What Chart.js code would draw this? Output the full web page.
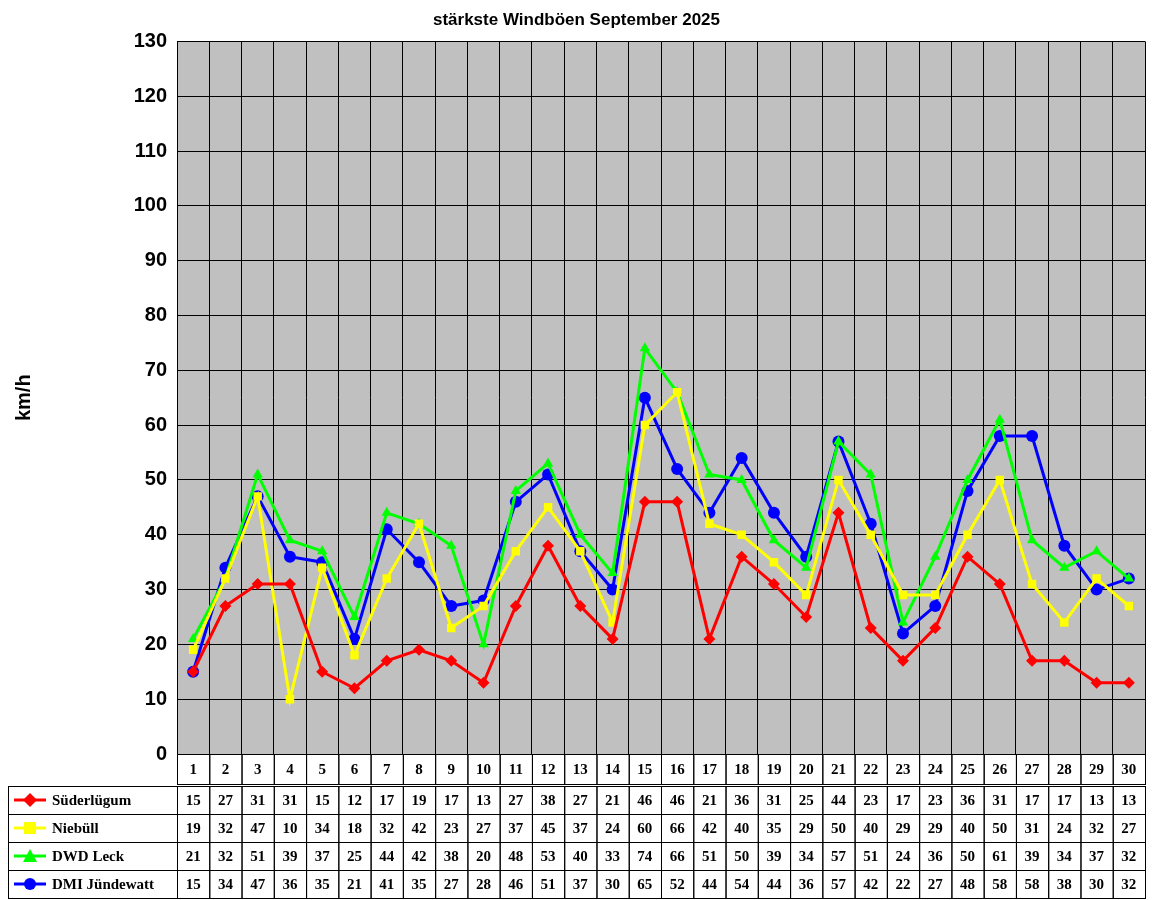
<!DOCTYPE html>
<html><head><meta charset="utf-8">
<script src="https://cdn.jsdelivr.net/npm/chart.js@4"></script>
<style>body{margin:0;background:#fff}#c{display:block}</style>
</head><body>
<canvas id="c" width="1152" height="900"></canvas>
<script>
const days = Array.from({length:30},(_,i)=>String(i+1));
const suederluegum = [15,27,31,31,15,12,17,19,17,13,27,38,27,21,46,46,21,36,31,25,44,23,17,23,36,31,17,17,13,13];
const niebuell = [19,32,47,10,34,18,32,42,23,27,37,45,37,24,60,66,42,40,35,29,50,40,29,29,40,50,31,24,32,27];
const dwdLeck = [21,32,51,39,37,25,44,42,38,20,48,53,40,33,74,66,51,50,39,34,57,51,24,36,50,61,39,34,37,32];
const dmiJuendewatt = [15,34,47,36,35,21,41,35,27,28,46,51,37,30,65,52,44,54,44,36,57,42,22,27,48,58,58,38,30,32];
const seriesNames = ['Süderlügum','Niebüll','DWD Leck','DMI Jündewatt'];
const yTicks = [0,10,20,30,40,50,60,70,80,90,100,110,120,130];

const colors = ['#ff0000','#ffff00','#00ff00','#0000ff'];
const styles = ['rectRot','rect','triangle','circle'];
const allData = [suederluegum,niebuell,dwdLeck,dmiJuendewatt];

const tablePlugin = {
  id:'tbl',
  beforeDraw(chart){
    const a=chart.chartArea, ctx=chart.ctx;
    ctx.save(); ctx.fillStyle='#c0c0c0'; ctx.fillRect(a.left,a.top,a.right-a.left,a.bottom-a.top); ctx.restore();
  },
  afterDraw(chart){
    const a=chart.chartArea, ctx=chart.ctx, x=chart.scales.x;
    const w=(a.right-a.left)/30;
    const top=a.bottom, hh=30, rh=28, left0=8;
    ctx.save();
    ctx.strokeStyle='#000'; ctx.lineWidth=1;
    // header cells
    ctx.font='bold 15px "Times New Roman", "Liberation Serif", serif';
    ctx.textAlign='center'; ctx.textBaseline='middle'; ctx.fillStyle='#000';
    for(let i=0;i<30;i++){
      const cx=x.getPixelForValue(i);
      ctx.strokeRect(cx-w/2+0.5, top+0.5, w, hh);
      ctx.fillText(days[i], cx, top+hh/2+1);
    }
    for(let r=0;r<4;r++){
      const y0=top+hh+2+r*rh;
      ctx.strokeRect(left0+0.5, y0+0.5, a.left-left0, rh);
      for(let i=0;i<30;i++){
        const cx=x.getPixelForValue(i);
        ctx.strokeRect(cx-w/2+0.5, y0+0.5, w, rh);
        ctx.fillStyle='#000'; ctx.textAlign='center';
        ctx.fillText(String(allData[r][i]), cx, y0+rh/2+1);
      }
      // legend sample
      const ly=y0+rh/2;
      ctx.strokeStyle=colors[r]; ctx.lineWidth=3;
      ctx.beginPath(); ctx.moveTo(14,ly); ctx.lineTo(46,ly); ctx.stroke();
      ctx.fillStyle=colors[r];
      const px=30;
      ctx.beginPath();
      if(r===0){ctx.moveTo(px,ly-7);ctx.lineTo(px+7,ly);ctx.lineTo(px,ly+7);ctx.lineTo(px-7,ly);ctx.closePath();}
      else if(r===1){ctx.rect(px-6,ly-6,12,12);}
      else if(r===2){ctx.moveTo(px,ly-7);ctx.lineTo(px+7,ly+6);ctx.lineTo(px-7,ly+6);ctx.closePath();}
      else {ctx.arc(px,ly,6,0,Math.PI*2);}
      ctx.fill();
      ctx.strokeStyle='#000'; ctx.lineWidth=1;
      ctx.fillStyle='#000'; ctx.textAlign='left';
      ctx.fillText(seriesNames[r], 52, ly+1);
    }
    ctx.restore();
  }
};

new Chart(document.getElementById('c'),{
  type:'line',
  data:{labels:days,datasets:allData.map((d,i)=>({
    label:seriesNames[i],data:d,borderColor:colors[i],backgroundColor:colors[i],
    borderWidth:3,pointStyle:styles[i],pointRadius:6,pointBorderWidth:0,tension:0
  }))},
  options:{
    responsive:false,animation:false,
    layout:{padding:{left:8,right:7,bottom:146,top:0}},
    plugins:{
      legend:{display:false},tooltip:{enabled:false},
      title:{display:true,text:'stärkste Windböen September 2025',color:'#000',
        font:{family:'Arial, "Liberation Sans", sans-serif',size:17,weight:'bold'},padding:{top:10,bottom:11}}
    },
    scales:{
      x:{offset:true,grid:{color:'#000',offset:true,drawTicks:false},border:{color:'#000'},ticks:{display:false}},
      y:{min:0,max:130,
        afterBuildTicks(s){s.ticks=yTicks.map(v=>({value:v}));},
        afterFit(s){s.width=169;},
        grid:{color:'#000',drawTicks:false},border:{color:'#000'},
        ticks:{color:'#000',padding:10,font:{family:'Arial, "Liberation Sans", sans-serif',size:20,weight:'bold'}},
        title:{display:true,text:'km/h',color:'#000',padding:{bottom:100},font:{family:'Arial, "Liberation Sans", sans-serif',size:20,weight:'bold'}}
      }
    }
  },
  plugins:[tablePlugin]
});
</script>
</body></html>
